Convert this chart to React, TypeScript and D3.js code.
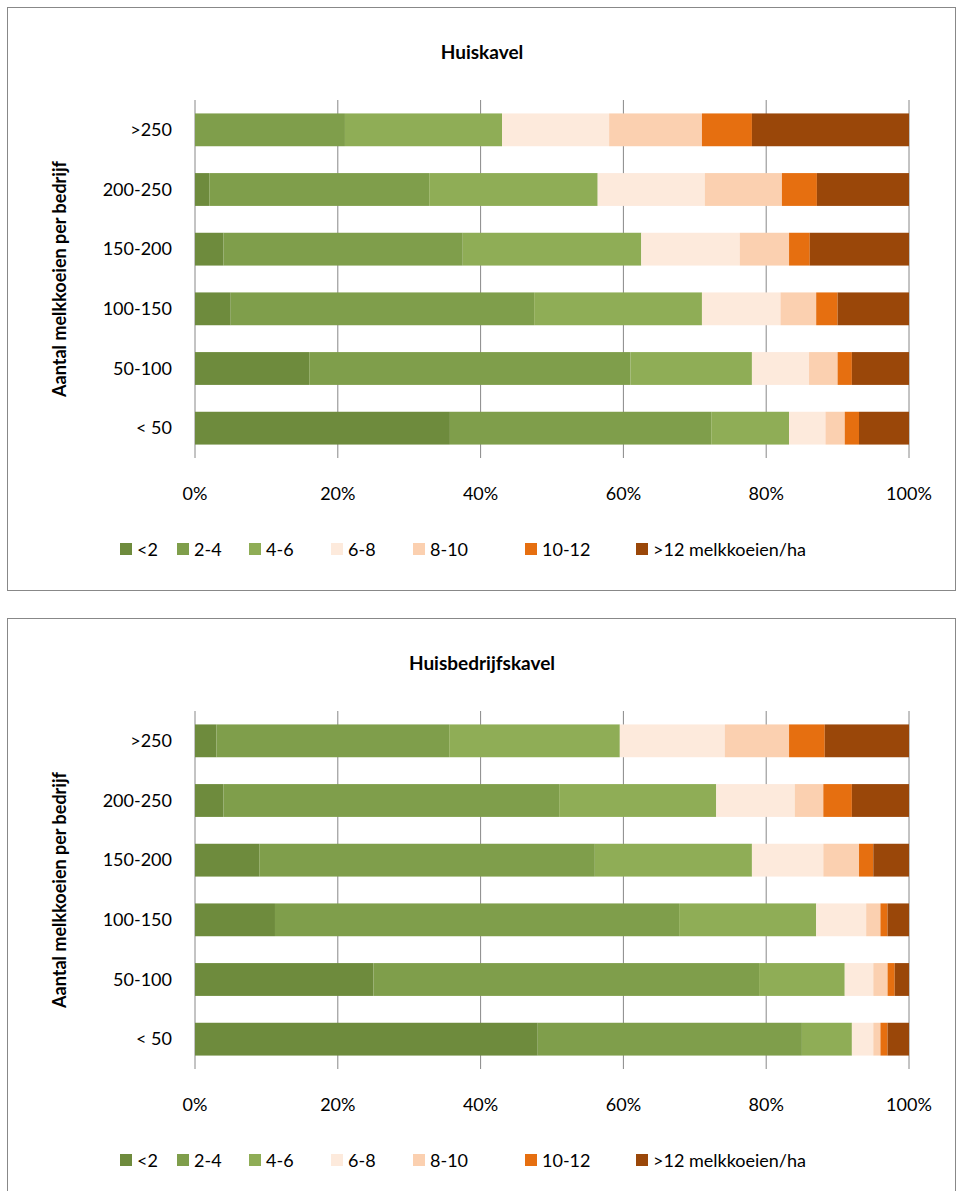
import React from "react";
import * as d3 from "d3";

const categories = [">250", "200-250", "150-200", "100-150", "50-100", "< 50"];
const seriesNames = ["<2", "2-4", "4-6", "6-8", "8-10", "10-12", ">12 melkkoeien/ha"];
const colors = ["#6e8b3d", "#7f9e4b", "#8fad56", "#fdeadc", "#fbd0b0", "#e66f10", "#9a4709"];
const xTicks = [0, 20, 40, 60, 80, 100];
// cumulative boundaries per category
const huiskavelCum = [
  [0, 21, 43, 58, 71, 78, 100],
  [2, 32.8, 56.4, 71.4, 82.2, 87.1, 100],
  [4, 37.5, 62.5, 76.3, 83.2, 86.1, 100],
  [5, 47.5, 71, 82, 87, 90, 100],
  [16, 61, 78, 86, 90, 92, 100],
  [35.7, 72.3, 83.2, 88.3, 91, 93, 100],
];
const huisbedrijfCum = [
  [3, 35.6, 59.5, 74.2, 83.2, 88.2, 100],
  [4, 51, 73, 84, 88, 92, 100],
  [9, 56, 78, 88, 93, 95, 100],
  [11.2, 67.8, 87, 94, 96, 97, 100],
  [25, 79, 91, 95, 97, 98, 100],
  [48, 85, 92, 95, 96, 97, 100],
];
const legendX = [120, 177, 249, 331, 413, 525, 636];
const font = "Lato, 'Open Sans', sans-serif";

function Panel({ top, title, cum }: { top: number; title: string; cum: number[][] }) {
  const x = d3.scaleLinear().domain([0, 100]).range([195, 909]);
  const y = d3.scaleBand().domain(categories).range([top + 93, top + 451]).paddingInner(0.45).paddingOuter(0.225);
  const midY = top + 272;
  return (
    <g>
      <rect x={7.5} y={top + 0.5} width={948} height={583} fill="#fff" stroke="#888" />
      <text x={482} y={top + 52} textAnchor="middle" fontSize={19} fontWeight="bold" fontFamily={font}>{title}</text>
      {xTicks.map((t) => (
        <g key={t}>
          <line x1={x(t)} x2={x(t)} y1={top + 93} y2={top + 451} stroke="#888" />
          <text x={x(t)} y={top + 493} textAnchor="middle" fontSize={18} fontFamily={font}>{t}%</text>
        </g>
      ))}
      {categories.map((c, i) => {
        const vals = cum[i];
        return (
          <g key={c}>
            <text x={172} y={y(c)! + y.bandwidth() / 2 + 6} textAnchor="end" fontSize={18} fontFamily={font}>{c}</text>
            {vals.map((v, j) => {
              const s = j === 0 ? 0 : vals[j - 1];
              return <rect key={j} x={x(s)} y={y(c)} width={Math.max(0, x(v) - x(s))} height={y.bandwidth()} fill={colors[j]} />;
            })}
          </g>
        );
      })}
      <text transform={`translate(66,${midY}) rotate(-90)`} textAnchor="middle" fontSize={18} fontWeight="bold" fontFamily={font}>Aantal melkkoeien per bedrijf</text>
      {seriesNames.map((n, j) => (
        <g key={n}>
          <rect x={legendX[j]} y={top + 536} width={12} height={12} fill={colors[j]} />
          <text x={legendX[j] + 17} y={top + 549} fontSize={18} fontFamily={font}>{n}</text>
        </g>
      ))}
    </g>
  );
}

export default function App() {
  return (
    <svg width={957} height={1191} style={{ position: "absolute", left: 0, top: 0 }}>
      <rect width={957} height={1191} fill="#fff" />
      <Panel top={7} title="Huiskavel" cum={huiskavelCum} />
      <Panel top={618} title="Huisbedrijfskavel" cum={huisbedrijfCum} />
    </svg>
  );
}
